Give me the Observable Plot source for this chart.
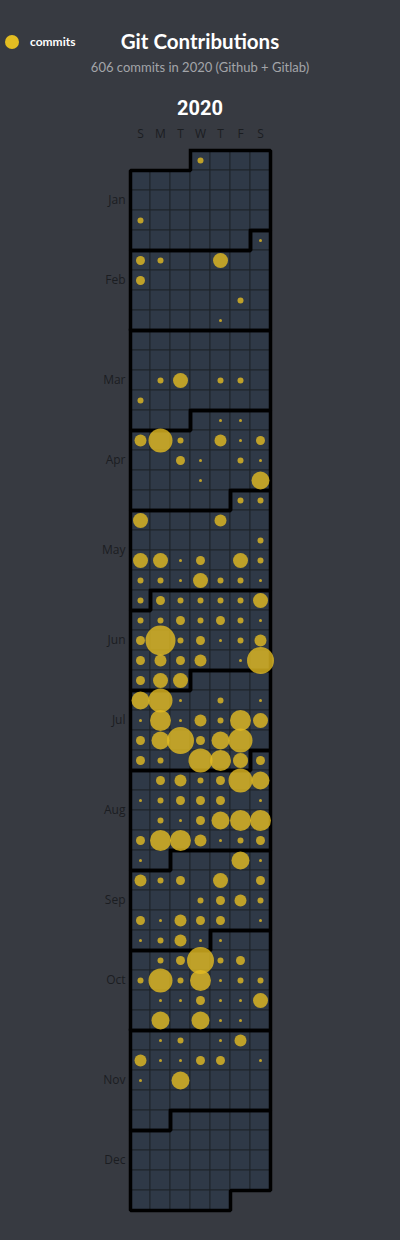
<!DOCTYPE html>
<html>
<head>
<meta charset="utf-8">
<script src="https://cdn.jsdelivr.net/npm/d3@7"></script>
<script src="https://cdn.jsdelivr.net/npm/@observablehq/plot@0.6"></script>
<style>
  html, body { margin: 0; padding: 0; background: #373a41; }
  #wrap { position: relative; width: 400px; height: 1240px; overflow: hidden; }
  #legend { position: absolute; left: 5px; top: 34px; display: flex; align-items: center; font: 700 12px Lato, "Open Sans", sans-serif; color: #fff; }
  #legend span.sw { display: inline-block; width: 14px; height: 14px; border-radius: 50%; background: #e3bd22; margin-right: 11px; }
  #title { position: absolute; left: 0; width: 400px; top: 29px; text-align: center; font: 700 20.5px Lato, "Open Sans", sans-serif; color: #fff; }
  #subtitle { position: absolute; left: 0; width: 400px; top: 59px; text-align: center; font: 400 13px Lato, "Open Sans", sans-serif; color: #a3a5a9; }
  #year { position: absolute; left: 0; width: 400px; top: 96px; text-align: center; font: 700 20px Roboto, sans-serif; color: #fff; }
  #chart { position: absolute; left: 0; top: 120px; }
</style>
</head>
<body>
<div id="wrap">
  <div id="legend"><span class="sw"></span>commits</div>
  <div id="title">Git Contributions</div>
  <div id="subtitle">606 commits in 2020 (Github + Gitlab)</div>
  <div id="year">2020</div>
  <div id="chart"></div>
</div>
<script>
const dayLabels = ["S", "M", "T", "W", "T", "F", "S"];
const monthLabels = ["Jan", "Feb", "Mar", "Apr", "May", "Jun", "Jul", "Aug", "Sep", "Oct", "Nov", "Dec"];

const commitDates = [
  "2020-01-01","2020-01-19",
  "2020-02-01","2020-02-02","2020-02-03","2020-02-06","2020-02-09","2020-02-21","2020-02-27",
  "2020-03-16","2020-03-17","2020-03-19","2020-03-20","2020-03-22",
  "2020-04-02","2020-04-03","2020-04-05","2020-04-06","2020-04-07","2020-04-09","2020-04-10","2020-04-11",
  "2020-04-14","2020-04-15","2020-04-17","2020-04-18","2020-04-22","2020-04-25",
  "2020-05-01","2020-05-02","2020-05-03","2020-05-07","2020-05-16","2020-05-17","2020-05-18","2020-05-19",
  "2020-05-20","2020-05-22","2020-05-23","2020-05-24","2020-05-25","2020-05-26","2020-05-27","2020-05-28",
  "2020-05-29","2020-05-30","2020-05-31",
  "2020-06-01","2020-06-02","2020-06-03","2020-06-04","2020-06-05","2020-06-06","2020-06-07","2020-06-08",
  "2020-06-09","2020-06-10","2020-06-11","2020-06-12","2020-06-13","2020-06-14","2020-06-15","2020-06-16",
  "2020-06-17","2020-06-18","2020-06-19","2020-06-20","2020-06-21","2020-06-22","2020-06-23","2020-06-24",
  "2020-06-26","2020-06-27","2020-06-28","2020-06-29","2020-06-30",
  "2020-07-05","2020-07-06","2020-07-07","2020-07-09","2020-07-11","2020-07-12","2020-07-13","2020-07-14",
  "2020-07-15","2020-07-16","2020-07-17","2020-07-18","2020-07-19","2020-07-20","2020-07-21","2020-07-22",
  "2020-07-23","2020-07-24","2020-07-26","2020-07-27","2020-07-29","2020-07-30","2020-07-31",
  "2020-08-01","2020-08-03","2020-08-04","2020-08-05","2020-08-06","2020-08-07","2020-08-08","2020-08-09",
  "2020-08-10","2020-08-11","2020-08-12","2020-08-13","2020-08-15","2020-08-17","2020-08-18","2020-08-19",
  "2020-08-20","2020-08-21","2020-08-22","2020-08-23","2020-08-24","2020-08-25","2020-08-26","2020-08-27",
  "2020-08-28","2020-08-29","2020-08-30",
  "2020-09-04","2020-09-05","2020-09-06","2020-09-07","2020-09-08","2020-09-10","2020-09-12","2020-09-16",
  "2020-09-17","2020-09-18","2020-09-19","2020-09-20","2020-09-21","2020-09-22","2020-09-23","2020-09-24",
  "2020-09-26","2020-09-27","2020-09-28","2020-09-29","2020-09-30",
  "2020-10-01","2020-10-05","2020-10-06","2020-10-07","2020-10-08","2020-10-09","2020-10-11","2020-10-12",
  "2020-10-13","2020-10-14","2020-10-15","2020-10-16","2020-10-17","2020-10-19","2020-10-20","2020-10-21",
  "2020-10-22","2020-10-23","2020-10-24","2020-10-26","2020-10-28","2020-10-29","2020-10-30",
  "2020-11-02","2020-11-03","2020-11-05","2020-11-06","2020-11-08","2020-11-09","2020-11-10","2020-11-11",
  "2020-11-12","2020-11-14","2020-11-15","2020-11-17"
];
const commitCounts = [
  2,2,
  1,3,2,5,3,2,1,
  2,5,2,2,2,
  1,1,4,8,2,4,1,3,
  3,1,2,1,1,6,
  2,2,5,4,2,5,5,1,
  3,5,2,2,2,1,5,2,
  2,1,2,
  3,2,2,2,2,5,2,2,
  3,2,3,2,1,3,10,2,
  3,1,2,4,3,4,3,4,
  1,9,3,5,5,
  6,8,1,2,1,1,7,1,
  4,2,7,5,3,6,9,3,
  6,8,3,2,8,7,5,
  3,3,4,2,3,8,6,1,
  2,3,3,3,1,2,1,3,
  6,7,7,3,7,7,4,1,
  2,3,1,
  6,1,4,2,3,5,3,2,
  3,4,2,3,1,4,3,3,
  1,1,2,4,1,
  1,2,3,9,2,3,2,8,
  2,7,1,2,2,1,1,3,
  1,1,5,6,6,1,1,
  1,2,1,4,4,1,1,3,
  3,1,1,6
];

const yearStart = new Date(Date.UTC(2020, 0, 1));
const yearEnd = new Date(Date.UTC(2021, 0, 1));
const weekOf = d => d3.utcSunday.count(yearStart, d);

const cells = d3.utcDays(yearStart, yearEnd).map(d => ({day: d.getUTCDay(), week: weekOf(d)}));

const commits = commitDates.map((s, i) => {
  const d = new Date(s + "T00:00:00Z");
  return {day: d.getUTCDay(), week: weekOf(d), count: commitCounts[i]};
});

const months = d3.range(12).map(m => {
  const first = new Date(Date.UTC(2020, m, 1));
  const last = new Date(Date.UTC(2020, m + 1, 0));
  return {m, d0: first.getUTCDay(), w0: weekOf(first), d1: last.getUTCDay(), w1: weekOf(last)};
});
const outlines = months.flatMap(({m, d0, w0, d1, w1}) =>
  [[d0, w0], [7, w0], [7, w1], [d1 + 1, w1], [d1 + 1, w1 + 1], [0, w1 + 1], [0, w0 + 1], [d0, w0 + 1], [d0, w0]]
    .map(([x, y]) => ({m, x, y})));
const monthCenters = new Map(months.map(({m, w0, w1}) => [(w0 + w1 + 1) / 2, monthLabels[m]]));
const nWeeks = weekOf(new Date(Date.UTC(2020, 11, 31))) + 1;

const chart = Plot.plot({
  width: 400,
  height: 1120,
  marginTop: 30,
  marginBottom: 30,
  marginLeft: 130,
  marginRight: 130,
  style: {background: "transparent", color: "#1b1d21", fontFamily: "'Open Sans', sans-serif", fontSize: "12px"},
  x: {domain: [0, 7]},
  y: {domain: [0, nWeeks], reverse: true},
  r: {type: "linear", domain: [0, 10], range: [0, 15]},
  marks: [
    Plot.axisX({anchor: "top", ticks: d3.range(7).map(i => i + 0.5), tickFormat: d => dayLabels[Math.floor(d)], tickSize: 0, tickPadding: 13, label: null, fill: "#1b1d21"}),
    Plot.axisY({anchor: "left", ticks: [...monthCenters.keys()], tickFormat: d => monthCenters.get(d), tickSize: 0, tickPadding: 5, label: null, fill: "#1b1d21"}),
    Plot.rect(cells, {x1: "day", x2: d => d.day + 1, y1: "week", y2: d => d.week + 1, fill: "#2f3947", stroke: "#1f242a", strokeWidth: 1}),
    Plot.line(outlines, {x: "x", y: "y", z: "m", stroke: "#000", strokeWidth: 3.5, strokeLinecap: "square", strokeLinejoin: "miter", curve: "linear"}),
    Plot.dot(commits, {x: d => d.day + 0.5, y: d => d.week + 0.5, r: "count", fill: "#e3bc22", fillOpacity: 0.8, stroke: "none"})
  ]
});
document.getElementById("chart").appendChild(chart);
</script>
</body>
</html>
